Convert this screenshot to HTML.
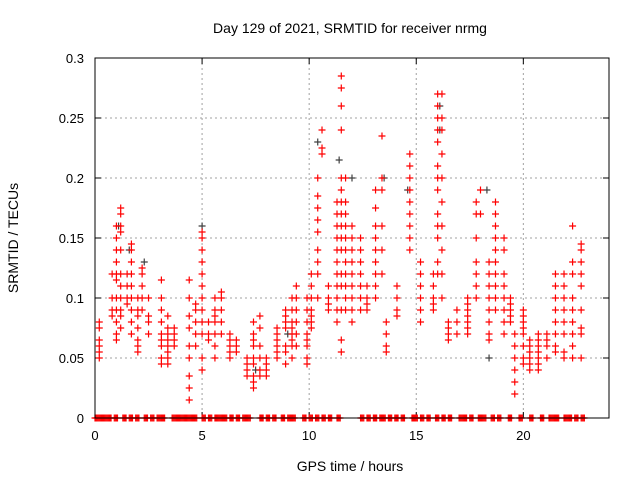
<!DOCTYPE html>
<html><head><meta charset="utf-8"><style>
body{margin:0;background:#fff}
svg{display:block;font-family:"Liberation Sans",sans-serif}
</style></head><body>
<svg id="chart" width="640" height="480">
<rect width="640" height="480" fill="#fff"/>
<text x="350" y="33" text-anchor="middle" font-size="14">Day 129 of 2021, SRMTID for receiver nrmg</text>
<text x="350" y="471" text-anchor="middle" font-size="14">GPS time / hours</text>
<text transform="translate(18,238) rotate(-90)" text-anchor="middle" font-size="14">SRMTID / TECUs</text>
<g id="grid"></g>
<g id="ticks"></g>
<g id="gray"></g>
<g id="red"></g>
<rect x="95" y="58" width="514" height="360" fill="none" stroke="#000" stroke-width="1"/>
</svg>
<script>
const xTicks=[0,5,10,15,20];
const yTicks=[0,0.05,0.1,0.15,0.2,0.25,0.3];
const yTickLabels=["0","0.05","0.1","0.15","0.2","0.25","0.3"];
const redHours=[
0.2,0.2,0.2,0.2,0.2,0.2, 0.8,0.8,0.8,0.8,
1.0,1.0,1.0,1.0,1.0,1.0,1.0,1.0,1.0,1.0,1.0,
1.2,1.2,1.2,1.2,1.2,1.2,1.2,1.2,1.2,1.2,1.2,
1.5,1.5,1.5,1.5, 1.7,1.7,1.7,1.7,1.7,1.7,1.7,1.7,1.7,
2.0,2.0,2.0,2.0,2.0,2.0,2.0, 2.2,2.2,2.2,2.2,2.2, 2.5,2.5,2.5,2.5,
3.1,3.1,3.1,3.1,3.1,3.1,3.1,3.1,3.1, 3.4,3.4,3.4,3.4,3.4,3.4,3.4,3.4, 3.7,3.7,3.7,3.7,
4.4,4.4,4.4,4.4,4.4,4.4,4.4,4.4,4.4, 4.7,4.7,4.7,4.7,4.7,
5.0,5.0,5.0,5.0,5.0,5.0,5.0,5.0,5.0,5.0,5.0,5.0, 5.3,5.3,5.3,
5.6,5.6,5.6,5.6,5.6,5.6,5.6, 5.9,5.9,5.9,5.9,5.9, 6.3,6.3,6.3,6.3,6.3, 6.6,6.6,6.6,
7.1,7.1,7.1,7.1, 7.4,7.4,7.4,7.4,7.4,7.4,7.4,7.4,7.4, 7.7,7.7,7.7,7.7,7.7,7.7, 8.0,8.0,8.0,8.0,
8.5,8.5,8.5,8.5,8.5,8.5, 8.9,8.9,8.9,8.9,8.9,8.9,8.9, 9.2,9.2,9.2,9.2,9.2,9.2,9.2,9.2,
9.4,9.4,9.4,9.4,9.4,9.4, 9.9,9.9,9.9,9.9,9.9,9.9,9.9,9.9, 10.1,10.1,10.1,10.1,10.1,10.1,10.1,
10.4,10.4,10.4,10.4,10.4,10.4,10.4,10.4,10.4, 10.6,10.6,10.6, 10.9,10.9,10.9,10.9,
11.3,11.3,11.3,11.3,11.3,11.3,11.3,11.3,11.3,11.3,11.3,
11.5,11.5,11.5,11.5,11.5,11.5,11.5,11.5,11.5,11.5,11.5,11.5,11.5,11.5,11.5,11.5,
11.7,11.7,11.7,11.7,11.7,11.7,11.7,11.7,11.7,11.7,11.7,
12.0,12.0,12.0,12.0,12.0,12.0,12.0,12.0,12.0, 12.4,12.4,12.4,12.4,12.4,12.4,12.4, 12.7,12.7,12.7,12.7,
13.1,13.1,13.1,13.1,13.1,13.1,13.1,13.1,13.1, 13.4,13.4,13.4,13.4,13.4,13.4, 13.6,13.6,13.6,13.6,
14.1,14.1,14.1,14.1, 14.7,14.7,14.7,14.7,14.7,14.7,14.7,14.7,14.7, 15.2,15.2,15.2,15.2,15.2,15.2,
15.8,15.8,15.8,15.8,15.8,
16.0,16.0,16.0,16.0,16.0,16.0,16.0,16.0,16.0,16.0,16.0,16.0,16.0,
16.2,16.2,16.2,16.2,16.2,16.2,16.2,16.2,16.2,16.2, 16.5,16.5,16.5,16.5, 16.9,16.9,16.9,
17.4,17.4,17.4,17.4,17.4,17.4,17.4, 17.8,17.8,17.8,17.8,17.8,17.8,17.8, 18.0,18.0,
18.4,18.4,18.4,18.4,18.4,18.4,18.4,18.4, 18.7,18.7,18.7,18.7,18.7,18.7,18.7,18.7,18.7,18.7,
19.1,19.1,19.1,19.1,19.1,19.1,19.1,19.1, 19.4,19.4,19.4,19.4,19.4, 19.6,19.6,19.6,19.6,19.6,19.6,
20.0,20.0,20.0,20.0,20.0,20.0,20.0,20.0, 20.3,20.3,20.3,20.3,20.3,20.3,
20.7,20.7,20.7,20.7,20.7,20.7,20.7, 21.1,21.1,21.1,21.1,
21.5,21.5,21.5,21.5,21.5,21.5,21.5,21.5, 21.9,21.9,21.9,21.9,21.9,21.9,21.9,21.9,
22.3,22.3,22.3,22.3,22.3,22.3,22.3,22.3,22.3, 22.7,22.7,22.7,22.7,22.7,22.7,22.7,22.7,22.7];
const redValues=[
0.08,0.075,0.065,0.06,0.055,0.05, 0.1,0.09,0.085,0.12,
0.16,0.15,0.14,0.13,0.12,0.115,0.1,0.09,0.08,0.07,0.065,
0.175,0.17,0.16,0.155,0.14,0.12,0.11,0.1,0.09,0.085,0.075,
0.12,0.11,0.1,0.095, 0.145,0.14,0.13,0.12,0.11,0.1,0.09,0.08,0.07,
0.1,0.09,0.085,0.075,0.065,0.06,0.055, 0.125,0.12,0.11,0.1,0.09, 0.1,0.085,0.08,0.07,
0.115,0.1,0.09,0.08,0.07,0.065,0.06,0.05,0.045, 0.085,0.075,0.07,0.065,0.06,0.055,0.05,0.045, 0.075,0.07,0.065,0.06,
0.115,0.1,0.085,0.075,0.06,0.05,0.035,0.025,0.015, 0.095,0.09,0.08,0.07,0.06,
0.155,0.15,0.14,0.13,0.12,0.11,0.1,0.09,0.08,0.07,0.05,0.04, 0.08,0.07,0.065,
0.1,0.09,0.085,0.08,0.07,0.06,0.05, 0.105,0.1,0.09,0.08,0.07, 0.07,0.065,0.06,0.055,0.05, 0.065,0.06,0.055,
0.05,0.045,0.04,0.035, 0.08,0.07,0.065,0.06,0.05,0.045,0.035,0.03,0.025, 0.085,0.075,0.06,0.05,0.04,0.035, 0.05,0.045,0.04,0.035,
0.075,0.07,0.065,0.06,0.055,0.05, 0.09,0.085,0.08,0.075,0.06,0.055,0.045, 0.1,0.09,0.08,0.075,0.07,0.065,0.06,0.05,
0.11,0.1,0.09,0.08,0.07,0.06, 0.1,0.09,0.08,0.07,0.065,0.06,0.05,0.045, 0.12,0.11,0.1,0.09,0.085,0.08,0.075,
0.2,0.185,0.175,0.165,0.155,0.14,0.13,0.12,0.1, 0.24,0.225,0.22, 0.11,0.1,0.095,0.09,
0.18,0.17,0.16,0.15,0.14,0.13,0.12,0.11,0.1,0.09,0.08,
0.285,0.275,0.26,0.24,0.2,0.19,0.18,0.17,0.16,0.15,0.14,0.12,0.11,0.09,0.065,0.055,
0.2,0.18,0.17,0.16,0.15,0.14,0.13,0.12,0.11,0.1,0.09,
0.16,0.15,0.14,0.13,0.12,0.11,0.1,0.09,0.08, 0.15,0.14,0.13,0.12,0.11,0.1,0.09, 0.11,0.1,0.095,0.09,
0.19,0.175,0.16,0.15,0.14,0.13,0.12,0.11,0.1, 0.235,0.2,0.19,0.16,0.14,0.12, 0.08,0.07,0.06,0.055,
0.11,0.1,0.09,0.085, 0.22,0.21,0.2,0.19,0.18,0.17,0.16,0.15,0.14, 0.13,0.12,0.11,0.1,0.09,0.08,
0.12,0.11,0.1,0.095,0.09,
0.27,0.26,0.25,0.24,0.23,0.21,0.2,0.19,0.17,0.16,0.15,0.13,0.12,
0.27,0.25,0.24,0.22,0.2,0.18,0.16,0.14,0.12,0.1, 0.08,0.075,0.07,0.065, 0.09,0.08,0.07,
0.1,0.095,0.09,0.085,0.08,0.075,0.07, 0.18,0.17,0.15,0.13,0.12,0.11,0.1, 0.19,0.17,
0.13,0.12,0.11,0.1,0.09,0.08,0.07,0.065, 0.18,0.17,0.16,0.15,0.14,0.13,0.12,0.11,0.1,0.09,
0.15,0.14,0.12,0.11,0.1,0.09,0.08,0.07, 0.1,0.095,0.09,0.085,0.08, 0.07,0.06,0.05,0.04,0.03,0.02,
0.09,0.085,0.08,0.075,0.07,0.06,0.05,0.045, 0.065,0.06,0.055,0.05,0.045,0.04,
0.07,0.065,0.06,0.055,0.05,0.045,0.04, 0.07,0.065,0.06,0.05,
0.12,0.11,0.1,0.09,0.08,0.07,0.06,0.055, 0.12,0.11,0.1,0.09,0.08,0.07,0.055,0.05,
0.16,0.13,0.12,0.1,0.09,0.08,0.07,0.06,0.05, 0.145,0.14,0.13,0.12,0.11,0.09,0.075,0.07,0.05];
const zeroHours=[0,0.2,0.4,0.6,0.9,1.3,1.6,1.9,2.3,2.6,2.9,3.1,3.6,3.8,4.0,4.2,4.4,4.6,5.0,5.3,5.6,5.8,6.0,6.3,6.6,6.9,7.1,7.7,8.0,8.3,8.7,9.0,9.2,9.7,10.0,10.3,10.6,10.9,11.3,12.4,12.7,13.0,13.3,13.4,13.7,14.0,14.3,14.8,14.9,15.2,15.5,15.9,16.2,16.5,17.0,17.2,17.5,17.9,18.1,18.5,18.8,19.3,19.8,20.3,20.8,21.2,21.4,21.5,21.9,22.1,22.4,22.7];
const grayHours=[1.1,1.6,2.3,5.0,10.4,11.4,12.0,14.6,16.1,16.1,18.3,18.4,13.5,9.0,7.5];
const grayValues=[0.16,0.14,0.13,0.16,0.23,0.215,0.2,0.19,0.26,0.24,0.19,0.05,0.2,0.07,0.04];

const X0=95,X1=609,Y0=418,Y1=58,XMAX=24,YMAX=0.3;
const xs=h=>X0+(X1-X0)*h/XMAX;
const ys=v=>Y0-(Y0-Y1)*v/YMAX;
const NS='http://www.w3.org/2000/svg';
function mk(tag,attrs,parent){const e=document.createElementNS(NS,tag);for(const k in attrs)e.setAttribute(k,attrs[k]);parent.appendChild(e);return e;}
const grid=document.getElementById('grid'),ticks=document.getElementById('ticks');
xTicks.forEach((t,i)=>{
  const x=xs(t);
  if(t>0){const g=mk('line',{x1:x,x2:x,y1:Y1,y2:Y0,stroke:'#a0a0a0','stroke-dasharray':'2,3'},grid);
    
    }
  mk('line',{x1:x,x2:x,y1:Y0,y2:Y0-6,stroke:'#000'},ticks);
  mk('line',{x1:x,x2:x,y1:Y1,y2:Y1+6,stroke:'#000'},ticks);
  const tx=mk('text',{x:x,y:Y0+22,'text-anchor':'middle','font-size':'13'},ticks);
  tx.textContent=String(t);
  
  
});
yTicks.forEach((t,i)=>{
  const y=ys(t);
  if(t>0&&t<YMAX){const g=mk('line',{x1:X0,x2:X1,y1:y,y2:y,stroke:'#a0a0a0','stroke-dasharray':'2,3'},grid);
    
    }
  mk('line',{x1:X0,x2:X0+6,y1:y,y2:y,stroke:'#000'},ticks);
  mk('line',{x1:X1,x2:X1-6,y1:y,y2:y,stroke:'#000'},ticks);
  const tx=mk('text',{x:X0-11,y:y+5,'text-anchor':'end','font-size':'13'},ticks);
  tx.textContent=yTickLabels[i];
  
  
});
function plus(h,v,color,parent){
  const x=xs(h),y=ys(v);
  const p=mk('path',{d:`M${x-3.5},${y}H${x+3.5}M${x},${y-3.5}V${y+3.5}`,stroke:color,'stroke-width':'1.2',fill:'none'},parent);
  
  
}
const gray=document.getElementById('gray'),red=document.getElementById('red');
grayHours.forEach((h,i)=>plus(h,grayValues[i],'#404040',gray));
redHours.forEach((h,i)=>plus(h,redValues[i],'#ff0000',red));
zeroHours.forEach(h=>{for(let k=0;k<4;k++)plus(h+0.05*k,0,'#ff0000',red);});
</script>
</body></html>
